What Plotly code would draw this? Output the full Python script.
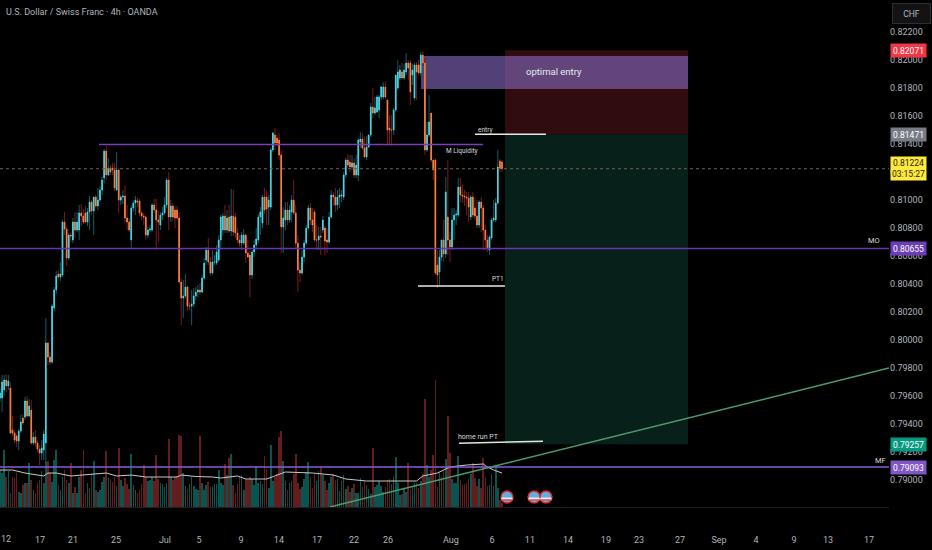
import numpy as np
import plotly.graph_objects as go

# USD/CHF 4h candles
opens = [
    0.79586, 0.79586, 0.79643, 0.79715, 0.79672, 0.79658, 0.79357, 0.79336, 0.79315, 0.79279,
    0.79350, 0.79443, 0.79450, 0.79565, 0.79458, 0.79500, 0.79265, 0.79307, 0.79265, 0.79222,
    0.79193, 0.79215, 0.79265, 0.79979, 0.79879, 0.79843, 0.80229, 0.80358, 0.80472, 0.80450,
    0.80465, 0.80843, 0.80793, 0.80586, 0.80750, 0.80715, 0.80843, 0.80786, 0.80786, 0.80908,
    0.80886, 0.80908, 0.80843, 0.80915, 0.80986, 0.80922, 0.81022, 0.80958, 0.81000, 0.81072,
    0.81158, 0.81350, 0.81179, 0.81229, 0.81229, 0.81215, 0.81072, 0.81215, 0.81000, 0.81022,
    0.81029, 0.80872, 0.80843, 0.80715, 0.80943, 0.80979, 0.80993, 0.80993, 0.80908, 0.80886,
    0.80879, 0.80750, 0.80786, 0.80786, 0.80965, 0.80929, 0.80858, 0.80822, 0.80893, 0.80908,
    0.80965, 0.81143, 0.80879, 0.80958, 0.80929, 0.80929, 0.80872, 0.80415, 0.80300, 0.80315,
    0.80379, 0.80243, 0.80243, 0.80257, 0.80315, 0.80343, 0.80358, 0.80343, 0.80443, 0.80572,
    0.80643, 0.80558, 0.80479, 0.80558, 0.80550, 0.80572, 0.80715, 0.80786, 0.80886, 0.80786,
    0.80879, 0.80779, 0.80886, 0.80879, 0.80765, 0.80715, 0.80693, 0.80693, 0.80750, 0.80622,
    0.80607, 0.80465, 0.80629, 0.80679, 0.80715, 0.80879, 0.80836, 0.81022, 0.81022, 0.80950,
    0.80950, 0.81358, 0.81465, 0.81443, 0.81429, 0.81322, 0.80808, 0.80858, 0.80929, 0.80858,
    0.80915, 0.81000, 0.80908, 0.80693, 0.80500, 0.80479, 0.80593, 0.80693, 0.80800, 0.80943,
    0.80858, 0.80915, 0.80715, 0.80715, 0.80743, 0.80786, 0.80800, 0.80715, 0.80700, 0.80879,
    0.81036, 0.81022, 0.80965, 0.81022, 0.81029, 0.81022, 0.81179, 0.81286, 0.81272, 0.81236,
    0.81265, 0.81179, 0.81179, 0.81415, 0.81436, 0.81372, 0.81308, 0.81379, 0.81465, 0.81665,
    0.81622, 0.81629, 0.81643, 0.81736, 0.81736, 0.81808, 0.81715, 0.81515, 0.81500, 0.81500,
    0.81643, 0.81800, 0.81872, 0.81915, 0.81872, 0.81915, 0.81979, 0.81979, 0.81893, 0.81729,
    0.81965, 0.81965, 0.81908, 0.82036, 0.81979, 0.81358, 0.81465, 0.81622, 0.81286, 0.81286,
    0.80536, 0.80486, 0.80593, 0.80715, 0.80615, 0.80879, 0.80715, 0.80665, 0.80858, 0.80893,
    0.80893, 0.81093, 0.81036, 0.81029, 0.81022, 0.81015, 0.80879, 0.81022, 0.80943, 0.80886,
    0.80822, 0.80986, 0.80943, 0.80786, 0.80715, 0.80643, 0.80729, 0.80858, 0.80858, 0.80979,
    0.81279, 0.81272,
]
closes = [
    0.79622, 0.79700, 0.79715, 0.79672, 0.79708, 0.79336, 0.79336, 0.79286, 0.79279, 0.79350,
    0.79415, 0.79408, 0.79565, 0.79458, 0.79529, 0.79265, 0.79307, 0.79265, 0.79222, 0.79193,
    0.79229, 0.79329, 0.79979, 0.79879, 0.79843, 0.80243, 0.80358, 0.80458, 0.80450, 0.80472,
    0.80843, 0.80793, 0.80586, 0.80750, 0.80743, 0.80843, 0.80786, 0.80843, 0.80908, 0.80886,
    0.80843, 0.80843, 0.80915, 0.80986, 0.80922, 0.81022, 0.80958, 0.81000, 0.81072, 0.81143,
    0.81350, 0.81179, 0.81229, 0.81200, 0.81215, 0.81086, 0.81215, 0.81000, 0.81022, 0.81029,
    0.80872, 0.80843, 0.80786, 0.80943, 0.80979, 0.81000, 0.80986, 0.80908, 0.80886, 0.80879,
    0.80750, 0.80786, 0.80793, 0.80965, 0.80929, 0.80858, 0.80843, 0.80893, 0.80908, 0.80965,
    0.81143, 0.80879, 0.80958, 0.80879, 0.80872, 0.80872, 0.80415, 0.80300, 0.80315, 0.80379,
    0.80243, 0.80243, 0.80257, 0.80315, 0.80343, 0.80358, 0.80343, 0.80443, 0.80550, 0.80643,
    0.80558, 0.80479, 0.80558, 0.80558, 0.80629, 0.80715, 0.80879, 0.80886, 0.80786, 0.80872,
    0.80779, 0.80886, 0.80772, 0.80765, 0.80715, 0.80693, 0.80750, 0.80750, 0.80622, 0.80593,
    0.80465, 0.80629, 0.80679, 0.80722, 0.80879, 0.80915, 0.81022, 0.80929, 0.80936, 0.81000,
    0.81358, 0.81479, 0.81408, 0.81408, 0.81322, 0.80808, 0.80872, 0.80929, 0.80858, 0.80929,
    0.81000, 0.80908, 0.80693, 0.80500, 0.80479, 0.80593, 0.80693, 0.80800, 0.80943, 0.80858,
    0.80822, 0.80715, 0.80715, 0.80743, 0.80736, 0.80858, 0.80708, 0.80700, 0.80879, 0.81036,
    0.81022, 0.80965, 0.81022, 0.81036, 0.81036, 0.81179, 0.81286, 0.81250, 0.81236, 0.81265,
    0.81179, 0.81250, 0.81429, 0.81436, 0.81372, 0.81308, 0.81379, 0.81465, 0.81665, 0.81622,
    0.81658, 0.81736, 0.81736, 0.81808, 0.81808, 0.81736, 0.81500, 0.81500, 0.81500, 0.81643,
    0.81893, 0.81915, 0.81929, 0.81872, 0.81929, 0.81979, 0.81943, 0.81772, 0.81929, 0.81965,
    0.81915, 0.81908, 0.82036, 0.81979, 0.81358, 0.81465, 0.81558, 0.81286, 0.81215, 0.80479,
    0.80465, 0.80593, 0.80715, 0.80615, 0.81058, 0.80715, 0.80665, 0.80858, 0.80893, 0.80900,
    0.81093, 0.81036, 0.81029, 0.81022, 0.81015, 0.80950, 0.81022, 0.80893, 0.80886, 0.80822,
    0.80986, 0.80943, 0.80786, 0.80715, 0.80658, 0.80736, 0.80858, 0.80872, 0.80979, 0.81236,
    0.81229, 0.81224,
]
highs = [
    0.79658, 0.79750, 0.79750, 0.79757, 0.79750, 0.79700, 0.79458, 0.79357, 0.79329, 0.79365,
    0.79465, 0.79472, 0.79593, 0.79600, 0.79579, 0.79572, 0.79343, 0.79357, 0.79286, 0.79250,
    0.79286, 0.79357, 0.80158, 0.79986, 0.79915, 0.80257, 0.80379, 0.80493, 0.80500, 0.80558,
    0.80858, 0.80915, 0.80815, 0.80765, 0.80772, 0.80872, 0.80915, 0.80915, 0.80965, 0.80972,
    0.80936, 0.80958, 0.80943, 0.81029, 0.81000, 0.81022, 0.81036, 0.81086, 0.81100, 0.81165,
    0.81365, 0.81386, 0.81300, 0.81250, 0.81265, 0.81265, 0.81343, 0.81229, 0.81036, 0.81072,
    0.81108, 0.80965, 0.80872, 0.80965, 0.81000, 0.81029, 0.81015, 0.81008, 0.80922, 0.80908,
    0.80893, 0.80808, 0.80822, 0.80979, 0.81008, 0.81008, 0.80929, 0.80915, 0.80950, 0.81022,
    0.81158, 0.81200, 0.81000, 0.80979, 0.80958, 0.80958, 0.80915, 0.80443, 0.80429, 0.80472,
    0.80386, 0.80272, 0.80358, 0.80372, 0.80379, 0.80393, 0.80408, 0.80465, 0.80586, 0.80665,
    0.80729, 0.80593, 0.80643, 0.80607, 0.80679, 0.80750, 0.80893, 0.80908, 0.80965, 0.80929,
    0.80965, 0.81079, 0.81072, 0.80908, 0.80800, 0.80750, 0.80772, 0.80793, 0.80765, 0.80715,
    0.80643, 0.80643, 0.80715, 0.80800, 0.80900, 0.80950, 0.81036, 0.81086, 0.81072, 0.81036,
    0.81372, 0.81486, 0.81515, 0.81465, 0.81479, 0.81358, 0.80950, 0.80986, 0.80986, 0.80965,
    0.81036, 0.81143, 0.80965, 0.80750, 0.80558, 0.80643, 0.80715, 0.80822, 0.80965, 0.80979,
    0.80943, 0.80929, 0.80822, 0.80808, 0.80808, 0.80886, 0.80815, 0.80800, 0.80915, 0.81072,
    0.81058, 0.81086, 0.81072, 0.81086, 0.81072, 0.81200, 0.81300, 0.81329, 0.81322, 0.81322,
    0.81300, 0.81322, 0.81443, 0.81486, 0.81479, 0.81450, 0.81457, 0.81465, 0.81693, 0.81800,
    0.81736, 0.81750, 0.81750, 0.81815, 0.81843, 0.81850, 0.81715, 0.81608, 0.81608, 0.81658,
    0.81893, 0.82000, 0.81965, 0.81979, 0.81972, 0.82050, 0.82000, 0.82000, 0.81972, 0.81979,
    0.81986, 0.82000, 0.82058, 0.82065, 0.82015, 0.81558, 0.81750, 0.81622, 0.81286, 0.81300,
    0.80643, 0.80643, 0.80715, 0.80858, 0.81165, 0.81286, 0.80772, 0.80943, 0.80943, 0.80929,
    0.81158, 0.81158, 0.81108, 0.81072, 0.81058, 0.81058, 0.81036, 0.81058, 0.81015, 0.81000,
    0.81000, 0.81022, 0.80965, 0.80822, 0.80750, 0.80750, 0.80872, 0.81000, 0.81015, 0.81358,
    0.81293, 0.81286,
]
lows = [
    0.79557, 0.79486, 0.79607, 0.79629, 0.79643, 0.79329, 0.79315, 0.79265, 0.79236, 0.79215,
    0.79336, 0.79393, 0.79429, 0.79443, 0.79450, 0.79250, 0.79250, 0.79236, 0.79200, 0.79107,
    0.79143, 0.79143, 0.79122, 0.79822, 0.79822, 0.79829, 0.80208, 0.80329, 0.80429, 0.80422,
    0.80450, 0.80750, 0.80529, 0.80572, 0.80700, 0.80693, 0.80729, 0.80772, 0.80715, 0.80815,
    0.80829, 0.80836, 0.80815, 0.80786, 0.80893, 0.80750, 0.80943, 0.80929, 0.80986, 0.81036,
    0.81122, 0.81143, 0.81172, 0.81179, 0.81179, 0.81065, 0.81065, 0.80908, 0.80965, 0.80972,
    0.80843, 0.80786, 0.80772, 0.80658, 0.80915, 0.80893, 0.80950, 0.80886, 0.80858, 0.80822,
    0.80715, 0.80729, 0.80772, 0.80772, 0.80908, 0.80643, 0.80700, 0.80786, 0.80858, 0.80893,
    0.80943, 0.80786, 0.80843, 0.80850, 0.80800, 0.80858, 0.80400, 0.80107, 0.80158, 0.80300,
    0.80215, 0.80215, 0.80107, 0.80236, 0.80286, 0.80308, 0.80322, 0.80336, 0.80429, 0.80536,
    0.80536, 0.80458, 0.80465, 0.80536, 0.80536, 0.80558, 0.80643, 0.80750, 0.80765, 0.80765,
    0.80765, 0.80743, 0.80743, 0.80729, 0.80693, 0.80665, 0.80643, 0.80679, 0.80550, 0.80586,
    0.80308, 0.80436, 0.80593, 0.80643, 0.80693, 0.80750, 0.80800, 0.80900, 0.80822, 0.80822,
    0.80929, 0.81343, 0.81358, 0.81386, 0.81286, 0.80622, 0.80622, 0.80786, 0.80822, 0.80836,
    0.80843, 0.80893, 0.80658, 0.80343, 0.80415, 0.80465, 0.80558, 0.80679, 0.80786, 0.80822,
    0.80772, 0.80700, 0.80643, 0.80643, 0.80607, 0.80765, 0.80607, 0.80622, 0.80686, 0.80865,
    0.80958, 0.80915, 0.80929, 0.80943, 0.80986, 0.81000, 0.81158, 0.81229, 0.81200, 0.81215,
    0.81158, 0.81158, 0.81136, 0.81372, 0.81358, 0.81300, 0.81286, 0.81372, 0.81450, 0.81586,
    0.81608, 0.81622, 0.81586, 0.81715, 0.81722, 0.81722, 0.81393, 0.81393, 0.81386, 0.81465,
    0.81629, 0.81786, 0.81858, 0.81858, 0.81858, 0.81893, 0.81858, 0.81679, 0.81822, 0.81715,
    0.81715, 0.81893, 0.81886, 0.81958, 0.81322, 0.81343, 0.81450, 0.81272, 0.81143, 0.80465,
    0.80372, 0.80393, 0.80565, 0.80558, 0.80586, 0.80607, 0.80558, 0.80643, 0.80715, 0.80822,
    0.80879, 0.80986, 0.80979, 0.80958, 0.80893, 0.80843, 0.80858, 0.80872, 0.80858, 0.80800,
    0.80800, 0.80772, 0.80643, 0.80643, 0.80629, 0.80607, 0.80715, 0.80843, 0.80843, 0.80965,
    0.81200, 0.81200,
]
volumes = [
    370, 340, 570, 300, 360, 140, 300, 290, 340, 150,
    140, 220, 240, 240, 440, 270, 170, 140, 240, 270,
    360, 240, 450, 460, 340, 250, 470, 570, 220, 170,
    300, 370, 270, 240, 440, 140, 200, 140, 300, 370,
    570, 140, 240, 190, 340, 460, 170, 150, 170, 250,
    300, 560, 290, 280, 250, 300, 210, 590, 270, 210,
    290, 230, 180, 530, 220, 170, 140, 170, 230, 420,
    300, 260, 270, 300, 260, 520, 280, 240, 230, 200,
    240, 680, 300, 270, 300, 310, 720, 710, 340, 210,
    180, 230, 300, 210, 180, 170, 710, 240, 170, 220,
    250, 200, 200, 230, 230, 370, 240, 220, 430, 320,
    490, 530, 220, 140, 230, 300, 320, 170, 280, 270,
    300, 280, 220, 410, 240, 260, 230, 510, 380, 190,
    620, 260, 300, 330, 700, 760, 460, 260, 170, 240,
    260, 330, 530, 240, 180, 200, 280, 350, 450, 300,
    190, 330, 260, 360, 400, 320, 260, 170, 240, 300,
    330, 270, 280, 160, 260, 320, 180, 210, 150, 190,
    230, 140, 140, 290, 200, 260, 220, 180, 130, 590,
    200, 220, 260, 210, 150, 200, 270, 280, 230, 300,
    500, 240, 120, 130, 190, 150, 440, 180, 210, 240,
    240, 190, 260, 330, 1080, 420, 300, 370, 520, 1270,
    200, 350, 300, 360, 480, 910, 540, 280, 240, 240,
    510, 270, 220, 230, 240, 280, 330, 440, 290, 210,
    280, 190, 490, 300, 210, 220, 330, 210, 410, 190,
    70, 40,
]

# Volume moving average, given at a few bars only
ma_bars = [0, 6, 12, 21, 23, 27, 34, 45, 51, 56, 63, 70, 85, 87, 94, 102, 106, 114, 118, 128,
           132, 137, 150, 160, 166, 176, 200, 203, 210, 216, 224, 232, 234, 237, 241]
ma_values = [370, 370, 340, 310, 340, 340, 310, 330, 340, 310, 320, 300, 300, 320, 305, 300,
             290, 310, 280, 280, 310, 350, 340, 320, 280, 260, 260, 310, 340, 400, 420, 430,
             400, 370, 340]

price_ticks = [0.79, 0.792, 0.794, 0.796, 0.798, 0.80, 0.802, 0.804, 0.806, 0.808,
               0.81, 0.812, 0.814, 0.816, 0.818, 0.82, 0.822]
date_bars = [19.2, 35, 55.7, 79.2, 95.5, 115.7, 133.9, 152.2, 170, 186.3, 216.5,
             236.2, 254.4, 272.7, 290.9, 306.8, 326.5, 345.2, 363, 381.2, 397.5, 417.2]
date_labels = ["17", "21", "25", "Jul", "5", "9", "14", "17", "22", "26", "Aug",
               "6", "11", "14", "19", "23", "27", "Sep", "4", "9", "13", "17"]
event_bars = [243.4, 256.4, 262.1]

last_price = 0.81224
stop_price = 0.82071
entry_price = 0.81471
target_price = 0.79257
mo_level = 0.80655
mf_level = 0.79093
liquidity_level = 0.81397
pt1_level = 0.80386
box_top = 0.82029
box_bottom = 0.81793

FONT = "Roboto"
AXIS_GREY = "#b2b5be"
PURPLE = "#7a3fb5"

bars = np.arange(len(closes))
volume_colors = ["#0a5450" if c >= o else "#641c1d" for o, c in zip(opens, closes)]

fig = go.Figure()

# Volume pane, sits under the candles
fig.add_trace(go.Bar(x=bars, y=volumes, yaxis="y2", width=0.3,
                     marker=dict(color=volume_colors, line_width=0)))
fig.add_trace(go.Scatter(x=ma_bars, y=ma_values, yaxis="y2", mode="lines",
                         line=dict(color="#c9c9c9", width=1)))

# Wicks in a dark colour, then the bright bodies on top
fig.add_trace(go.Candlestick(
    x=bars, open=opens, high=highs, low=lows, close=closes,
    increasing=dict(line=dict(color="#0d5f68", width=1), fillcolor="#0d5f68"),
    decreasing=dict(line=dict(color="#7a1a1e", width=1), fillcolor="#7a1a1e"),
))
fig.add_trace(go.Candlestick(
    x=bars, open=opens, close=closes,
    high=np.maximum(opens, closes), low=np.minimum(opens, closes),
    increasing=dict(line=dict(color="#4fdcec", width=0.8), fillcolor="#4fdcec"),
    decreasing=dict(line=dict(color="#ff8a3d", width=0.8), fillcolor="#ff8a3d"),
))

# Economic event flags
fig.add_trace(go.Scatter(x=event_bars, y=[0.78879] * 3, mode="markers",
                         marker=dict(size=12, color="#62aede", line=dict(color="#d8262c", width=1.5))))
fig.add_trace(go.Scatter(x=event_bars, y=[0.78868] * 3, mode="markers",
                         marker=dict(size=8, symbol="line-ew", line=dict(color="#f0f0f0", width=2))))
fig.add_trace(go.Scatter(x=event_bars, y=[0.78858] * 3, mode="markers",
                         marker=dict(size=7, symbol="line-ew", line=dict(color="#e05050", width=1.5))))

shapes = [
    # long position boxes
    dict(type="rect", x0=242.4, x1=330.3, y0=entry_price, y1=stop_price, layer="below",
         fillcolor="#300c10", line_width=0),
    dict(type="rect", x0=242.4, x1=330.3, y0=target_price, y1=entry_price, layer="below",
         fillcolor="#08201a", line_width=0),
    dict(type="rect", x0=202.1, x1=330.3, y0=box_bottom, y1=box_top, layer="below",
         fillcolor="rgba(130,105,190,0.62)", line_width=0),
    # levels
    dict(type="line", x0=47.5, x1=231.9, y0=liquidity_level, y1=liquidity_level,
         line=dict(color=PURPLE, width=1.5)),
    dict(type="line", x0=0, x1=426.8, y0=mo_level, y1=mo_level, line=dict(color="#6a35b0", width=1.5)),
    dict(type="line", x0=0, x1=426.8, y0=mf_level, y1=mf_level, line=dict(color="#8a5ad8", width=1.5)),
    dict(type="line", x0=0, x1=426.8, y0=last_price, y1=last_price,
         line=dict(color="#6e6250", width=1, dash="dot")),
    # white target lines
    dict(type="line", x0=228, x1=262.1, y0=entry_price, y1=entry_price, line=dict(color="#e8e8e8", width=1.5)),
    dict(type="line", x0=200.7, x1=242.4, y0=pt1_level, y1=pt1_level, line=dict(color="#e8e8e8", width=1.5)),
    dict(type="line", x0=220.4, x1=260.7, y0=0.79264, y1=0.79278, line=dict(color="#e0e8e0", width=1.5)),
    # trend line
    dict(type="line", x0=158.4, x1=426.8, y0=0.78808, y1=0.798, line=dict(color="#4f9a6e", width=1.5)),
]


def chart_text(bar, price, text, size=7.5, color="#d8d8d8"):
    return dict(x=bar, y=price, text=text, showarrow=False,
                font=dict(family=FONT, size=size, color=color))


def price_tag(price, text, bg, color="#ffffff", height=13):
    return dict(xref="paper", x=1, xanchor="left", xshift=1, y=price, yref="y", text=text,
                showarrow=False, bgcolor=bg, width=35, height=height, borderpad=0,
                font=dict(family=FONT, size=8.5, color=color))


annotations = [
    chart_text(266.2, 0.81915, "optimal entry", size=9.5, color="#e4eeee"),
    chart_text(222, 0.81350, "M Liquidity", size=6.5),
    chart_text(233, 0.81500, "entry", size=6.5),
    chart_text(239, 0.80436, "PT1", size=6.5),
    chart_text(229.5, 0.79307, "home run PT", size=7),
    chart_text(419.5, 0.80708, "MO", size=7.5),
    chart_text(422.5, 0.79143, "MF", size=7.5),
    price_tag(stop_price, "0.82071", "#f23645"),
    price_tag(entry_price, "0.81471", "#787b86"),
    price_tag(last_price, "0.81224<br>03:15:27", "#ffe93b", color="#20201a", height=23),
    price_tag(mo_level, "0.80655", "#6a3cb5"),
    price_tag(target_price, "0.79257", "#089981"),
    price_tag(mf_level, "0.79093", "#7e57c2"),
    dict(xref="paper", yref="paper", x=0.004, y=0.977, xanchor="left", yanchor="middle",
         text="U.S. Dollar / Swiss Franc · 4h · OANDA", showarrow=False,
         font=dict(family=FONT, size=9, color=AXIS_GREY)),
    dict(xref="paper", yref="paper", x=1, xshift=3, y=1, yshift=-13, xanchor="left", yanchor="middle",
         text="CHF", showarrow=False, bgcolor="#131316", bordercolor="#2e2e33", borderwidth=1,
         width=35, height=17, font=dict(family=FONT, size=8.5, color=AXIS_GREY)),
    # first date label sits on the chart edge, as a tick it would push the plot sideways
    dict(xref="paper", yref="paper", x=0, y=0, yshift=-32, xanchor="left", yanchor="middle",
         text="12", showarrow=False, font=dict(family=FONT, size=9, color=AXIS_GREY), borderpad=0),
]

fig.update_layout(
    width=932,
    height=550,
    margin=dict(l=0, r=43, t=0, b=43),
    paper_bgcolor="#000000",
    plot_bgcolor="#000000",
    showlegend=False,
    hovermode=False,
    boxgap=0.55,
    xaxis=dict(
        range=[0, 426.8], tickmode="array", tickvals=date_bars, ticktext=date_labels,
        showgrid=False, zeroline=False, showline=True, linecolor="#1e1e28", linewidth=1,
        rangeslider=dict(visible=False), ticks="outside", ticklen=24, tickcolor="rgba(0,0,0,0)",
        tickfont=dict(family=FONT, size=9, color=AXIS_GREY),
    ),
    yaxis=dict(
        range=[0.78808, 0.82429], side="right", tickmode="array", tickvals=price_ticks,
        tickformat=".5f", showgrid=False, zeroline=False, showline=False, ticks="",
        tickfont=dict(family=FONT, size=9, color=AXIS_GREY),
    ),
    yaxis2=dict(range=[0, 5070], overlaying="y", visible=False, fixedrange=True),
    bargap=0.5,
    shapes=shapes,
    annotations=annotations,
)

fig.write_html("out.html", config=dict(displayModeBar=False),
               post_script="document.body.style.margin='0';document.body.style.background='#000';")
